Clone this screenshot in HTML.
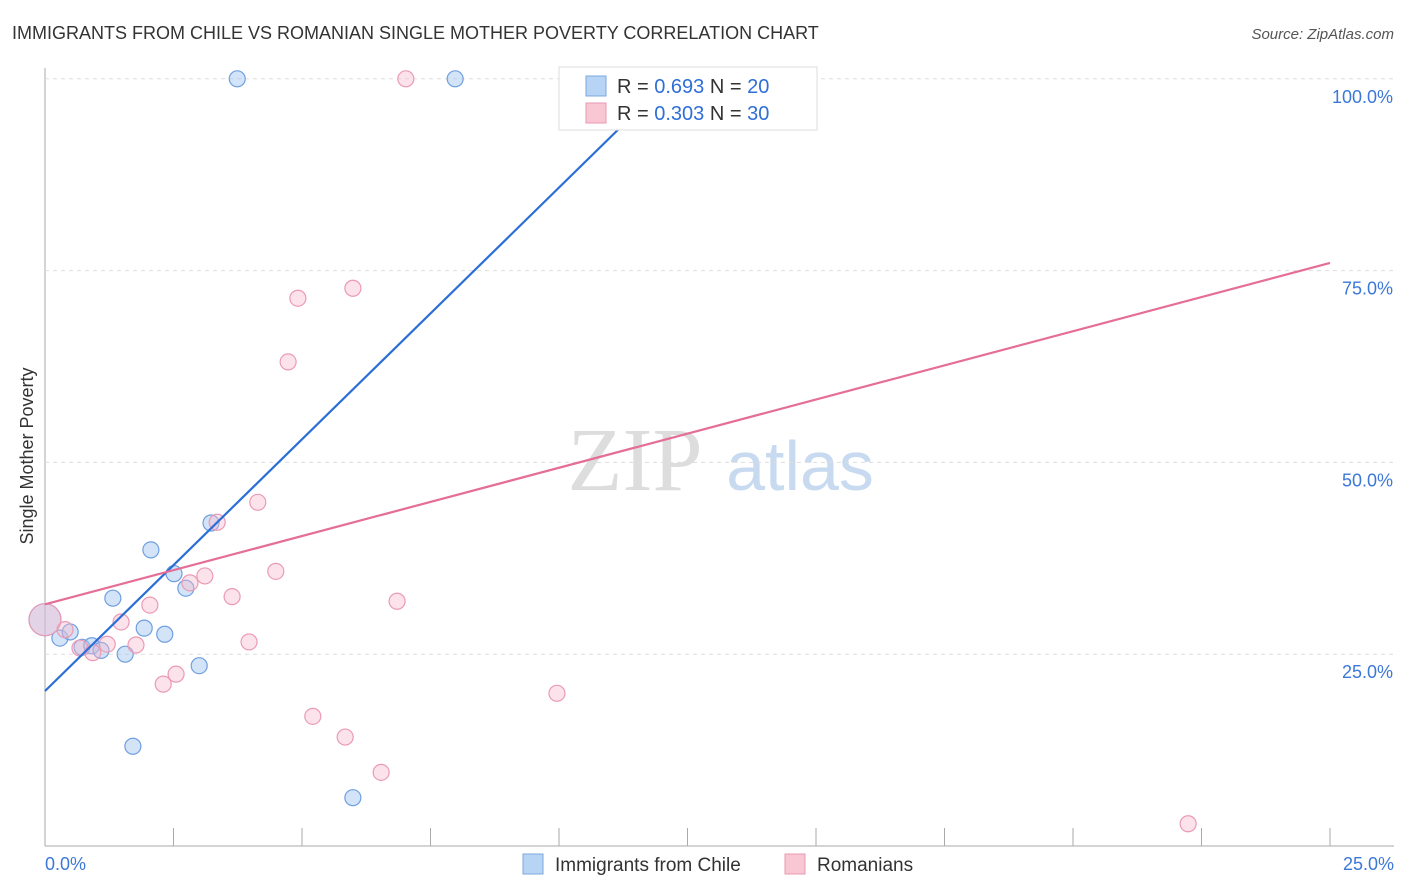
<!DOCTYPE html>
<html><head><meta charset="utf-8"><style>
body{margin:0;background:#fff;font-family:"Liberation Sans",sans-serif}
svg{display:block}
</style></head><body>
<svg id="c" width="1406" height="892">
<text x="12" y="39" font-size="18" fill="#333">IMMIGRANTS FROM CHILE VS ROMANIAN SINGLE MOTHER POVERTY CORRELATION CHART</text>
<text x="1394" y="39" font-size="15" fill="#555" font-style="italic" text-anchor="end">Source: ZipAtlas.com</text>
<text x="33" y="456" font-size="18" fill="#333" transform="rotate(-90 33 456)" text-anchor="middle">Single Mother Poverty</text>
<g><text x="635" y="490" font-size="90" fill="#ddd" font-family="Liberation Serif,serif" text-anchor="middle">ZIP</text><text x="800" y="490" font-size="70" fill="#c8daf0" text-anchor="middle">atlas</text></g>
<g id="grid"></g><g id="marks"></g>
<g>
<rect x="559" y="67" width="258" height="63" fill="#fff" stroke="#ddd"/>
<rect x="586" y="76" width="20" height="20" fill="#b8d4f5" stroke="#7aa8e0"/>
<rect x="586" y="103" width="20" height="20" fill="#f9c6d4" stroke="#e89ab2"/>
<text x="617" y="93" font-size="20" fill="#333">R = <tspan fill="#2e6fd6">0.693</tspan>   N = <tspan fill="#2e6fd6">20</tspan></text>
<text x="617" y="120" font-size="20" fill="#333">R = <tspan fill="#2e6fd6">0.303</tspan>   N = <tspan fill="#2e6fd6">30</tspan></text>
</g>
<g>
<rect x="523" y="854" width="20" height="20" fill="#b8d4f5" stroke="#7aa8e0"/>
<text x="555" y="871" font-size="19" fill="#333">Immigrants from Chile</text>
<rect x="785" y="854" width="20" height="20" fill="#f9c6d4" stroke="#e89ab2"/>
<text x="817" y="871" font-size="19" fill="#333">Romanians</text>
</g>
</svg>
<script>
const xTicks=[0,2.5,5,7.5,10,12.5,15,17.5,20,22.5,25];
const yTicks=[25,50,75,100];
const yTickLabels=["25.0%","50.0%","75.0%","100.0%"];
const chileX=[3.74,7.98,12.06,0,0.29,0.49,0.72,0.91,1.09,1.32,1.56,1.71,1.93,2.06,2.33,2.51,2.74,3.00,3.23,5.99];
const chileY=[100,100,100,29.5,27.1,27.9,25.9,26.1,25.5,32.3,25.0,13.0,28.4,38.6,27.6,35.5,33.6,23.5,42.1,6.3];
const romX=[7.02,14.75,0,0.39,0.68,0.93,1.21,1.48,1.77,2.04,2.30,2.55,2.82,3.11,3.35,3.64,3.97,4.14,4.49,4.73,4.92,5.21,5.84,5.99,6.54,6.85,9.96,22.24];
const romY=[100,100,29.5,28.2,25.8,25.2,26.3,29.2,26.2,31.4,21.1,22.4,34.3,35.2,42.2,32.5,26.6,44.8,35.8,63.1,71.4,16.9,14.2,72.7,9.6,31.9,19.9,2.9];
const chileLine=[20.2,100,12.16];// intercept, endY, endX
const romLine=[31.5,76.0,25];
const X=v=>45+v*51.4, Y=v=>846-v*7.672;
const NS="http://www.w3.org/2000/svg";
function mk(t,a,p){const e=document.createElementNS(NS,t);for(const k in a)e.setAttribute(k,a[k]);p.appendChild(e);return e;}
const g=document.getElementById('grid'),m=document.getElementById('marks');
let ax=mk('line',{x1:45,y1:68,x2:45,y2:846,stroke:'#aaa'},g);


let bx=mk('line',{x1:45,y1:846,x2:1394,y2:846,stroke:'#aaa'},g);


xTicks.forEach(t=>{const l=mk('line',{x1:X(t),y1:828,x2:X(t),y2:846,stroke:'#aaa'},g);

});
yTicks.forEach((t,i)=>{const l=mk('line',{x1:45,y1:Y(t),x2:1394,y2:Y(t),stroke:'#ddd','stroke-dasharray':'4,4'},g);


const tx=mk('text',{x:1393,y:Y(t)+24,'font-size':18,fill:'#3c78d8','text-anchor':'end'},g);tx.textContent=yTickLabels[i];

});
[[0,"0.0%",45,'start'],[25,"25.0%",1394,'end']].forEach(d=>{const tx=mk('text',{x:d[2],y:870,'font-size':18,fill:'#3c78d8','text-anchor':d[3]},g);tx.textContent=d[1];

});
function pts(xs,ys,fill,stroke,name){xs.forEach((x,i)=>{const r=(x===0)?16:8;const c=mk('circle',{cx:X(x),cy:Y(ys[i]),r:r,fill:fill,stroke:stroke,'stroke-width':1.2},m);

});}
pts(chileX,chileY,'rgba(160,196,240,0.45)','#6f9fe0','point-chile');
pts(romX,romY,'rgba(248,184,204,0.4)','#eb9ab4','point-romanian');
const l1=mk('line',{x1:X(0),y1:Y(chileLine[0]),x2:X(chileLine[2]),y2:Y(chileLine[1]),stroke:'#2b6fd6','stroke-width':2.2},m);


const l2=mk('line',{x1:X(0),y1:Y(romLine[0]),x2:X(romLine[2]),y2:Y(romLine[1]),stroke:'#e56e96','stroke-width':2.2},m);


</script>
</body></html>
